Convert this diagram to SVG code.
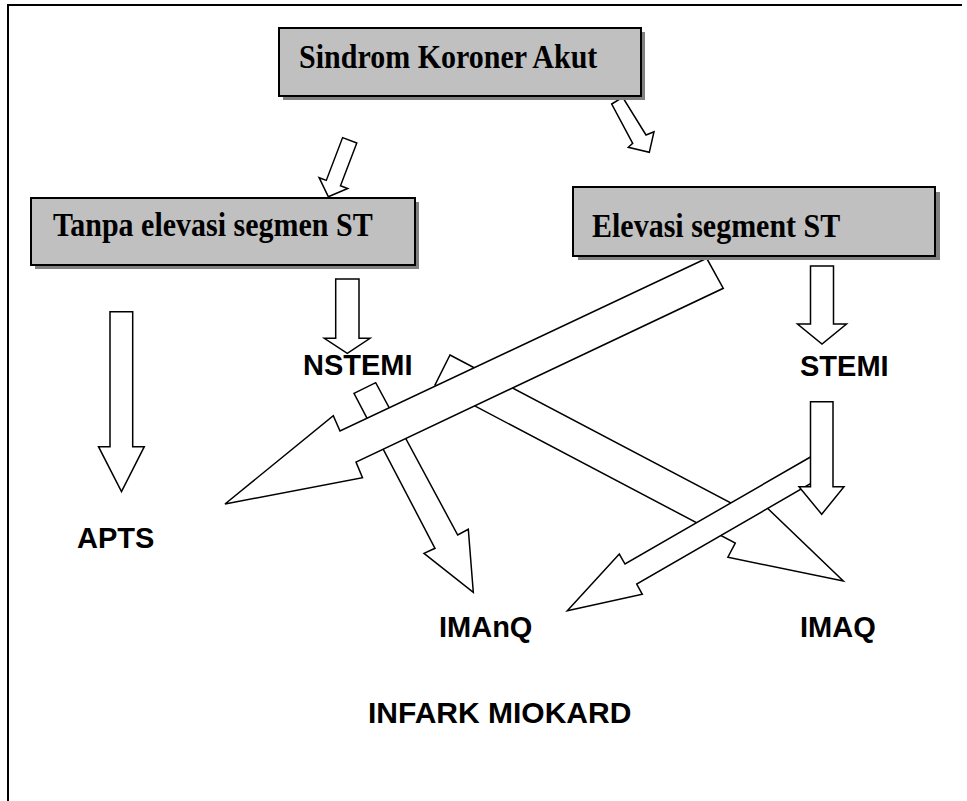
<svg xmlns="http://www.w3.org/2000/svg" width="967" height="801" viewBox="0 0 967 801">
<style>
.frame{fill:none;stroke:#000;stroke-width:2}
.box{fill:#c0c0c0;stroke:#000;stroke-width:2}
.shadow{fill:#808080;stroke:none}
.bt{font-family:"Liberation Serif","Times New Roman",serif;font-weight:bold;font-size:30px;fill:#000}
.lbl{font-family:"Liberation Sans",Arial,sans-serif;font-weight:bold;font-size:29px;fill:#000}
.arr{fill:#fff;stroke:#000;stroke-width:1.5;stroke-linejoin:miter}
</style>
<rect width="967" height="801" fill="#fff"/>
<path class="frame" d="M8,801 V5 H962"/>

<g id="connectors">
  <polygon id="a-tanpa-apts" class="arr" points="110,311.7 132.7,311.7 132.7,446.7 144.3,446.7 121.5,491.7 98.5,446.7 110,446.7"/>
  <polygon id="a-tanpa-nstemi" class="arr" points="335.7,279 359,279 359,338.3 370,338.3 347.3,353.3 324.3,338.3 335.7,338.3"/>
  <polygon id="a-elev-stemi" class="arr" points="810.5,266 833.5,266 833.5,324 846.5,324 822,344 797.5,324 810.5,324"/>
  <polygon id="a-ska-tanpa" class="arr" points="342.6,137.6 356.8,143 340.5,185.8 347.7,188.5 328.3,196.7 319.1,177.7 326.3,180.4"/>
  <polygon id="a-ska-elev" class="arr" points="611.7,104 622.7,97.3 646,135 654,131.7 649.3,152.3 628.3,147.3 632.7,143.3"/>
  <polygon id="a-nstemi-imaq" class="arr" points="450,355 750.9,513.5 758.3,499.4 843.3,581 727.9,557.2 735.3,543.1 435,385"/>
  <polygon id="a-nstemi-imanq" class="arr" points="354,393.3 375.7,382.7 457.7,535 468.3,529.3 473.3,592.3 424,553.3 435,548.3"/>
  <polygon id="a-stemi-imanq" class="arr" points="812.2,456 625,564 619.3,554.1 567.3,610.7 642.3,594.3 636.7,584 823.8,476"/>
  <polygon id="a-elev-apts" class="arr" points="706.7,258.3 340,431 333.3,415.7 225,504 362.5,477.8 356,462 723.3,288.3"/>
  <polygon id="a-stemi-imaq" class="arr" points="810.5,401.7 833,401.7 833,486.7 844,486.7 821.7,514.3 799,486.7 810.5,486.7"/>
</g>

<g id="sindrom-koroner-akut">
  <rect class="shadow" x="283" y="32" width="362" height="68"/>
  <rect class="box" x="279" y="28" width="362" height="68"/>
  <text class="bt" transform="translate(299,68) scale(1,1.12)">Sindrom Koroner Akut</text>
</g>
<g id="tanpa-elevasi">
  <rect class="shadow" x="35" y="202" width="384" height="67"/>
  <rect class="box" x="31" y="198" width="384" height="67"/>
  <text class="bt" transform="translate(53,236) scale(1,1.12)">Tanpa elevasi segmen ST</text>
</g>
<g id="elevasi-segment">
  <rect class="shadow" x="578" y="192" width="362" height="68"/>
  <rect class="box" x="573" y="187" width="362" height="69"/>
  <text class="bt" transform="translate(592,237) scale(1,1.12)">Elevasi segment ST</text>
</g>
<g id="nstemi"><text class="lbl" x="303" y="375">NSTEMI</text></g>
<g id="stemi"><text class="lbl" x="800" y="376">STEMI</text></g>
<g id="apts"><text class="lbl" x="77" y="548">APTS</text></g>
<g id="imanq"><text class="lbl" x="439" y="637">IMAnQ</text></g>
<g id="imaq"><text class="lbl" x="800" y="637">IMAQ</text></g>
<g id="infark-miokard"><text class="lbl" x="368" y="723" style="font-size:30px">INFARK MIOKARD</text></g>
</svg>
